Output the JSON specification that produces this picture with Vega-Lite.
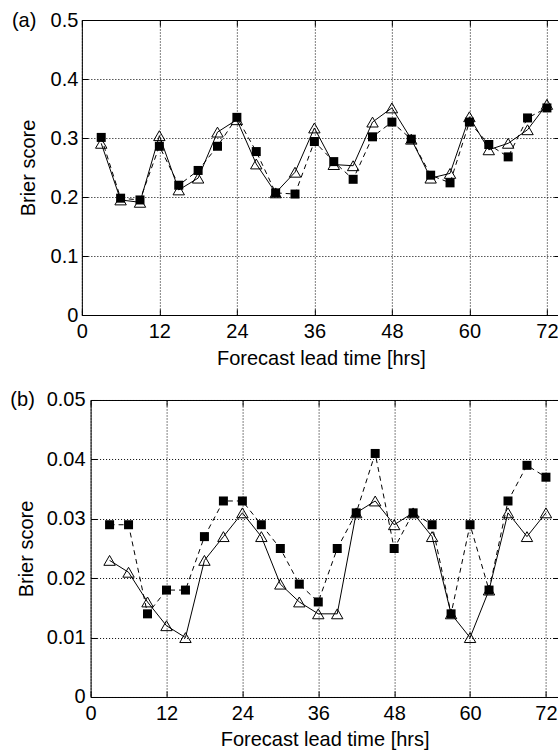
{
  "$schema": "https://vega.github.io/schema/vega-lite/v6.json",
  "padding": {"left": 8.6, "top": 9, "right": 0, "bottom": 0},
  "spacing": 20,
  "center": true,
  "config": {
    "view": {"stroke": "black", "strokeWidth": 1},
    "font": "Liberation Sans",
    "axis": {"labelFont": "Liberation Sans", "titleFont": "Liberation Sans", "labelColor": "black", "titleColor": "black", "labelFontSize": 20, "titleFontSize": 20, "titleFontWeight": "normal", "tickColor": "black", "tickWidth": 1, "gridColor": "black", "gridOpacity": 1, "gridWidth": 1, "gridDash": [1, 2], "domain": false, "labelFlush": false, "labelOverlap": false}
  },
  "datasets": {
    "a": [
      {"t": 3, "sq": 0.301, "tri": 0.291},
      {"t": 6, "sq": 0.198, "tri": 0.195},
      {"t": 9, "sq": 0.195, "tri": 0.191},
      {"t": 12, "sq": 0.286, "tri": 0.304},
      {"t": 15, "sq": 0.220, "tri": 0.212},
      {"t": 18, "sq": 0.245, "tri": 0.232},
      {"t": 21, "sq": 0.286, "tri": 0.310},
      {"t": 24, "sq": 0.335, "tri": 0.331},
      {"t": 27, "sq": 0.277, "tri": 0.256},
      {"t": 30, "sq": 0.207, "tri": 0.207},
      {"t": 33, "sq": 0.205, "tri": 0.242},
      {"t": 36, "sq": 0.294, "tri": 0.317},
      {"t": 39, "sq": 0.260, "tri": 0.255},
      {"t": 42, "sq": 0.230, "tri": 0.253},
      {"t": 45, "sq": 0.302, "tri": 0.327},
      {"t": 48, "sq": 0.327, "tri": 0.351},
      {"t": 51, "sq": 0.298, "tri": 0.298},
      {"t": 54, "sq": 0.237, "tri": 0.232},
      {"t": 57, "sq": 0.224, "tri": 0.240},
      {"t": 60, "sq": 0.327, "tri": 0.336},
      {"t": 63, "sq": 0.289, "tri": 0.280},
      {"t": 66, "sq": 0.268, "tri": 0.291},
      {"t": 69, "sq": 0.334, "tri": 0.314},
      {"t": 72, "sq": 0.351, "tri": 0.357}
    ],
    "b": [
      {"t": 3, "sq": 0.029, "tri": 0.023},
      {"t": 6, "sq": 0.029, "tri": 0.021},
      {"t": 9, "sq": 0.014, "tri": 0.016},
      {"t": 12, "sq": 0.018, "tri": 0.012},
      {"t": 15, "sq": 0.018, "tri": 0.010},
      {"t": 18, "sq": 0.027, "tri": 0.023},
      {"t": 21, "sq": 0.033, "tri": 0.027},
      {"t": 24, "sq": 0.033, "tri": 0.031},
      {"t": 27, "sq": 0.029, "tri": 0.027},
      {"t": 30, "sq": 0.025, "tri": 0.019},
      {"t": 33, "sq": 0.019, "tri": 0.016},
      {"t": 36, "sq": 0.016, "tri": 0.014},
      {"t": 39, "sq": 0.025, "tri": 0.014},
      {"t": 42, "sq": 0.031, "tri": 0.031},
      {"t": 45, "sq": 0.041, "tri": 0.033},
      {"t": 48, "sq": 0.025, "tri": 0.029},
      {"t": 51, "sq": 0.031, "tri": 0.031},
      {"t": 54, "sq": 0.029, "tri": 0.027},
      {"t": 57, "sq": 0.014, "tri": 0.014},
      {"t": 60, "sq": 0.029, "tri": 0.010},
      {"t": 63, "sq": 0.018, "tri": 0.018},
      {"t": 66, "sq": 0.033, "tri": 0.031},
      {"t": 69, "sq": 0.039, "tri": 0.027},
      {"t": 72, "sq": 0.037, "tri": 0.031}
    ]
  },
  "vconcat": [
    {
      "width": 478,
      "height": 295,
      "data": {"name": "a"},
      "resolve": {"axis": {"y": "independent"}},
      "layer": [
        {
          "mark": {"type": "line", "color": "black", "strokeWidth": 1},
          "encoding": {
            "x": {"field": "t", "type": "quantitative", "scale": {"domain": [0, 74], "nice": false, "zero": false},
              "axis": {"orient": "bottom", "values": [0, 12, 24, 36, 48, 60, 72], "format": "d", "grid": true, "ticks": true, "tickSize": -6, "labelPadding": 12, "title": "Forecast lead time [hrs]", "titlePadding": 7}},
            "y": {"field": "tri", "type": "quantitative", "scale": {"domain": [0, 0.5], "nice": false},
              "axis": {"orient": "left", "values": [0, 0.1, 0.2, 0.3, 0.4, 0.5], "format": ".1~f", "grid": true, "ticks": true, "tickSize": -6, "labelPadding": 10, "title": "Brier score", "titleX": -47.5, "titleY": 147.5, "titleBaseline": "alphabetic", "titleAlign": "center"}}
          }
        },
        {
          "mark": {"type": "point", "shape": "triangle-up", "size": 130, "filled": false, "color": "black", "strokeWidth": 1, "opacity": 1},
          "encoding": {
            "x": {"field": "t", "type": "quantitative", "scale": {"domain": [0, 74], "nice": false, "zero": false},
              "axis": {"orient": "top", "values": [0, 12, 24, 36, 48, 60, 72], "labels": false, "grid": false, "ticks": true, "tickSize": -6, "title": null}},
            "y": {"field": "tri", "type": "quantitative", "scale": {"domain": [0, 0.5], "nice": false},
              "axis": {"orient": "right", "values": [0, 0.1, 0.2, 0.3, 0.4, 0.5], "labels": false, "grid": false, "ticks": true, "tickSize": -6, "title": "\u00a0", "titleColor": "transparent", "titleFontSize": 10, "titleAngle": 0, "titleX": 8, "titleY": 147.5, "titleAlign": "right", "titleBaseline": "middle"}}
          }
        },
        {
          "mark": {"type": "line", "color": "black", "strokeWidth": 1, "strokeDash": [5, 4]},
          "encoding": {
            "x": {"field": "t", "type": "quantitative", "scale": {"domain": [0, 74], "nice": false, "zero": false}, "axis": null},
            "y": {"field": "sq", "type": "quantitative", "scale": {"domain": [0, 0.5], "nice": false},
              "axis": {"orient": "left", "values": [0.5], "labelExpr": "'(a)'", "grid": false, "ticks": false, "tickSize": 0, "labelPadding": 46, "title": null}}
          }
        },
        {
          "mark": {"type": "point", "shape": "square", "size": 81, "filled": true, "color": "black", "opacity": 1},
          "encoding": {
            "x": {"field": "t", "type": "quantitative", "scale": {"domain": [0, 74], "nice": false, "zero": false}, "axis": null},
            "y": {"field": "sq", "type": "quantitative", "scale": {"domain": [0, 0.5], "nice": false}, "axis": null}
          }
        }
      ]
    },
    {
      "width": 468,
      "height": 297,
      "data": {"name": "b"},
      "resolve": {"axis": {"y": "independent"}},
      "layer": [
        {
          "mark": {"type": "line", "color": "black", "strokeWidth": 1},
          "encoding": {
            "x": {"field": "t", "type": "quantitative", "scale": {"domain": [0, 74], "nice": false, "zero": false},
              "axis": {"orient": "bottom", "values": [0, 12, 24, 36, 48, 60, 72], "format": "d", "grid": true, "ticks": true, "tickSize": -6, "labelPadding": 13, "title": "Forecast lead time [hrs]", "titlePadding": 6}},
            "y": {"field": "tri", "type": "quantitative", "scale": {"domain": [0, 0.05], "nice": false},
              "axis": {"orient": "left", "values": [0, 0.01, 0.02, 0.03, 0.04, 0.05], "format": ".2~f", "grid": true, "ticks": true, "tickSize": -6, "labelPadding": 11.5, "title": "Brier score", "titleX": -58, "titleY": 148.5, "titleBaseline": "alphabetic", "titleAlign": "center"}}
          }
        },
        {
          "mark": {"type": "point", "shape": "triangle-up", "size": 130, "filled": false, "color": "black", "strokeWidth": 1, "opacity": 1},
          "encoding": {
            "x": {"field": "t", "type": "quantitative", "scale": {"domain": [0, 74], "nice": false, "zero": false},
              "axis": {"orient": "top", "values": [0, 12, 24, 36, 48, 60, 72], "labels": false, "grid": false, "ticks": true, "tickSize": -6, "title": null}},
            "y": {"field": "tri", "type": "quantitative", "scale": {"domain": [0, 0.05], "nice": false},
              "axis": {"orient": "right", "values": [0, 0.01, 0.02, 0.03, 0.04, 0.05], "labels": false, "grid": false, "ticks": true, "tickSize": -6, "title": null}}
          }
        },
        {
          "mark": {"type": "line", "color": "black", "strokeWidth": 1, "strokeDash": [5, 4]},
          "encoding": {
            "x": {"field": "t", "type": "quantitative", "scale": {"domain": [0, 74], "nice": false, "zero": false}, "axis": null},
            "y": {"field": "sq", "type": "quantitative", "scale": {"domain": [0, 0.05], "nice": false},
              "axis": {"orient": "left", "values": [0.05], "labelExpr": "'(b)'", "grid": false, "ticks": false, "tickSize": 0, "labelPadding": 56.3, "title": null}}
          }
        },
        {
          "mark": {"type": "point", "shape": "square", "size": 81, "filled": true, "color": "black", "opacity": 1},
          "encoding": {
            "x": {"field": "t", "type": "quantitative", "scale": {"domain": [0, 74], "nice": false, "zero": false}, "axis": null},
            "y": {"field": "sq", "type": "quantitative", "scale": {"domain": [0, 0.05], "nice": false}, "axis": null}
          }
        }
      ]
    }
  ]
}
